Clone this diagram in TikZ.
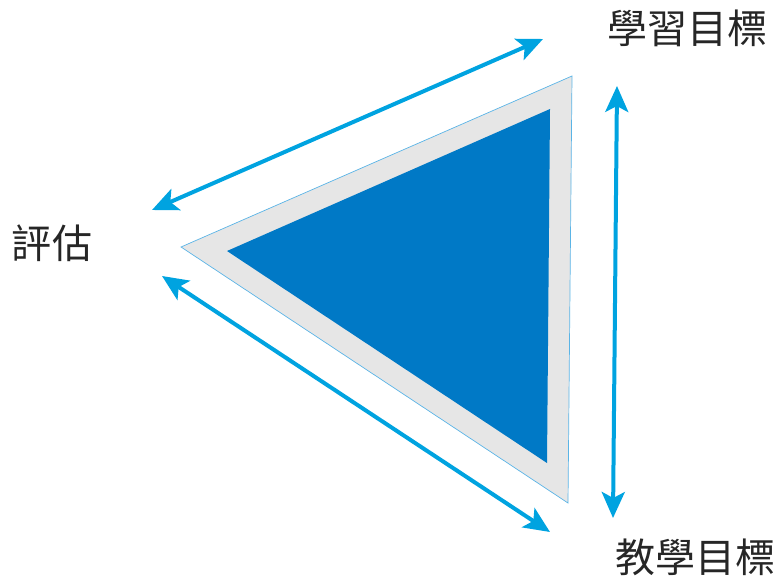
\documentclass[tikz,border=0pt]{standalone}
\usepackage{fontspec}
\newfontfamily\cjk{Noto Sans CJK TC}
\usetikzlibrary{arrows.meta}
\definecolor{outerfill}{HTML}{E6E6E6}
\definecolor{outerline}{HTML}{5AB4E6}
\definecolor{innerblue}{HTML}{0079C6}
\definecolor{arrowblue}{HTML}{00A3E0}
\tikzset{
  dblarrow/.style={draw=arrowblue, line width=4pt,
    {Stealth[length=26pt,width=23pt,inset=6pt]}-{Stealth[length=26pt,width=23pt,inset=6pt]}},
  lbl/.style={font=\cjk\fontsize{40}{46}\selectfont, text=black!85, inner sep=0pt}
}
\begin{document}
\begin{tikzpicture}[x=1pt,y=-1pt]
\useasboundingbox (0,0) rectangle (775,580);
% triangle corners
\coordinate (oL) at (181,247);
\coordinate (oT) at (572,76);
\coordinate (oB) at (568,503);
\coordinate (iL) at (227,251);
\coordinate (iT) at (550,109);
\coordinate (iB) at (547,463);
\fill[outerfill, draw=outerline, line width=0.7pt] (oL) -- (oT) -- (oB) -- cycle;
\fill[innerblue] (iL) -- (iT) -- (iB) -- cycle;
% labels
\node[lbl, anchor=center] (learn) at (687,28) {學習目標};
\node[lbl, anchor=center] (assess) at (52,243) {評估};
\node[lbl, anchor=center] (teach) at (695,557) {教學目標};
% arrow ends
\coordinate (a1) at (152,210);
\coordinate (a2) at (543,39);
\coordinate (b1) at (617,86);
\coordinate (b2) at (613,518);
\coordinate (c1) at (162,276);
\coordinate (c2) at (550,532);
\draw[dblarrow] (a1) -- (a2);
\draw[dblarrow] (b1) -- (b2);
\draw[dblarrow] (c1) -- (c2);
\end{tikzpicture}
\end{document}
